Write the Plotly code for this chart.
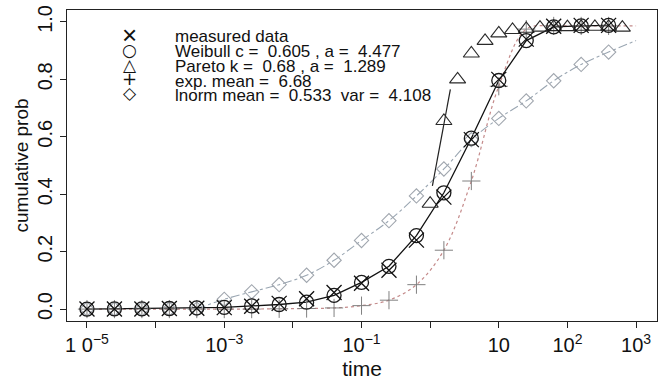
import plotly.graph_objects as go

# ---------------- data ----------------
time_exp = [-5.0, -4.6, -4.2, -3.8, -3.4, -3.0, -2.6, -2.2, -1.8, -1.4,
            -1.0, -0.6, -0.2, 0.2, 0.6, 1.0, 1.4, 1.8, 2.2, 2.6]
time = [10 ** e for e in time_exp]

measured = [0.000, 0.000, 0.000, 0.002, 0.003, 0.005, 0.010, 0.020, 0.036, 0.058,
            0.090, 0.135, 0.240, 0.390, 0.590, 0.800, 0.940, 0.985, 0.988, 0.988]
weibull = [0.000, 0.001, 0.001, 0.002, 0.004, 0.006, 0.011, 0.016, 0.024, 0.048,
           0.093, 0.149, 0.256, 0.405, 0.595, 0.796, 0.935, 0.983, 0.986, 0.988]
expo = [0.000, 0.000, 0.000, 0.000, 0.000, 0.000, 0.000, 0.001, 0.002, 0.004,
        0.012, 0.031, 0.085, 0.205, 0.446, 0.776, 0.975, 0.986, 0.986, 0.986]
lnorm = [0.000, 0.000, 0.000, 0.000, 0.000, 0.034, 0.060, 0.085, 0.118, 0.170,
         0.239, 0.308, 0.394, 0.488, 0.590, 0.664, 0.725, 0.795, 0.852, 0.895]

pareto_exp = [0.0, 0.2, 0.4, 0.6, 0.8, 1.0, 1.2, 1.4, 1.6, 1.8, 2.0, 2.2, 2.4, 2.6, 2.8]
pareto_time = [10 ** e for e in pareto_exp]
pareto = [0.367, 0.655, 0.800, 0.890, 0.934, 0.960, 0.972, 0.976, 0.980, 0.982,
          0.982, 0.983, 0.983, 0.983, 0.980]

# model curves continued to the right edge
curve_end_time = [1000.0]
expo_curve_end = [0.986]
lnorm_curve_end = [0.935]
pareto_line_time = [1.078, 1.97]
pareto_line_prob = [0.429, 0.765]

x_tickvals = [1e-5, 1e-4, 1e-3, 1e-2, 1e-1, 1, 10, 100, 1000]
x_ticktext = ["1 0<sup>\u22125</sup>", "", "10<sup>\u22123</sup>", "", "10<sup>\u22121</sup>",
              "", "10", "10<sup>2</sup>", "10<sup>3</sup>"]
y_tickvals = [0.0, 0.2, 0.4, 0.6, 0.8, 1.0]
y_ticktext = ["0.0", "0.2", "0.4", "0.6", "0.8", "1.0"]

NB = "\u00a0"
legend_symbols = ["\u00d7", "\u25cb", "\u25b3", "+", "\u25c7"]
legend_labels = ["measured data",
                 "Weibull c =" + NB + " 0.605 , a =" + NB + " 4.477",
                 "Pareto k =" + NB + " 0.68 , a =" + NB + " 1.289",
                 "exp. mean =" + NB + " 6.68",
                 "lnorm mean =" + NB + " 0.533" + NB + " var =" + NB + " 4.108"]

# ---------------- figure ----------------
FONT = "Liberation Sans, Arial, Helvetica, sans-serif"
fig = go.Figure()

# lines
fig.add_trace(go.Scatter(x=time + curve_end_time, y=expo + expo_curve_end, mode="lines",
                         line=dict(color="#c48a8a", width=1.2, dash="dot", shape="spline"),
                         showlegend=False))
fig.add_trace(go.Scatter(x=time[4:] + curve_end_time, y=lnorm[4:] + lnorm_curve_end, mode="lines",
                         line=dict(color="#9aa6b2", width=1.1, dash="dashdot", shape="spline"),
                         showlegend=False))
fig.add_trace(go.Scatter(x=time, y=weibull, mode="lines",
                         line=dict(color="#111111", width=1.3),
                         showlegend=False))
fig.add_trace(go.Scatter(x=pareto_line_time, y=pareto_line_prob, mode="lines",
                         line=dict(color="#222222", width=1.2),
                         showlegend=False))

# markers
fig.add_trace(go.Scatter(x=time, y=lnorm, mode="markers",
                         marker=dict(symbol="diamond-open", size=11, color="#a0a6ae",
                                     line=dict(width=1.1)),
                         showlegend=False))
fig.add_trace(go.Scatter(x=time, y=expo, mode="markers",
                         marker=dict(symbol="cross-thin-open", size=13, color="#808080",
                                     line=dict(width=1, color="#808080")),
                         showlegend=False))
fig.add_trace(go.Scatter(x=pareto_time, y=pareto, mode="markers",
                         marker=dict(symbol="triangle-up-open", size=14, color="#2a2a2a",
                                     line=dict(width=1.1)),
                         showlegend=False))
fig.add_trace(go.Scatter(x=time, y=weibull, mode="markers",
                         marker=dict(symbol="circle-open", size=14, color="#1a1a1a",
                                     line=dict(width=1.3)),
                         showlegend=False))
fig.add_trace(go.Scatter(x=time, y=measured, mode="markers",
                         marker=dict(symbol="x-thin-open", size=15, color="#111111",
                                     line=dict(width=1.3, color="#111111")),
                         showlegend=False))

# legend as text
L, R, T, B = 67, 5, 8, 66
W, H = 663, 387
pw, ph = W - L - R, H - T - B
sym_py = [33, 48, 63, 77, 92]
txt_py = [35, 50, 65, 80, 94]
sym_sizes = [26, 17, 17, 18, 17]
for sym, lab, sy, ty, ss in zip(legend_symbols, legend_labels, sym_py, txt_py, sym_sizes):
    is_x = sym == "\u00d7"
    fig.add_annotation(x=(130 - L) / pw, y=(H - B - sy) / ph, xref="paper", yref="paper",
                       text=sym, showarrow=False, xanchor="center", yanchor="middle",
                       font=dict(family=FONT if is_x else "DejaVu Sans",
                                 size=ss, color="#111111"))
    fig.add_annotation(x=(173 - L) / pw, y=(H - B - ty) / ph, xref="paper", yref="paper",
                       text=lab, showarrow=False, xanchor="left", yanchor="middle",
                       font=dict(family=FONT, size=17, color="#111111"))

fig.update_layout(
    width=W, height=H,
    margin=dict(l=L, r=R, t=T, b=B, pad=0),
    plot_bgcolor="white", paper_bgcolor="white",
    font=dict(family=FONT, color="#111111"),
    showlegend=False,
)
fig.update_xaxes(type="log", range=[-5.291, 3.305],
                 tickvals=x_tickvals, ticktext=x_ticktext,
                 ticks="outside", ticklen=6, tickcolor="#222222", tickwidth=1,
                 tickfont=dict(size=20), ticklabelstandoff=0,
                 showline=True, linecolor="#222222", linewidth=1.2, mirror=True,
                 showgrid=False, zeroline=False,
                 title=dict(text="time", font=dict(size=21), standoff=6))
fig.update_yaxes(range=[-0.0415, 1.0415],
                 tickvals=y_tickvals, ticktext=y_ticktext, tickangle=-90,
                 ticks="outside", ticklen=6, tickcolor="#222222", tickwidth=1,
                 tickfont=dict(size=20), ticklabelstandoff=0,
                 showline=True, linecolor="#222222", linewidth=1.2, mirror=True,
                 showgrid=False, zeroline=False,
                 title=dict(text="cumulative prob", font=dict(size=19), standoff=0))

fig.write_html("out.html")
